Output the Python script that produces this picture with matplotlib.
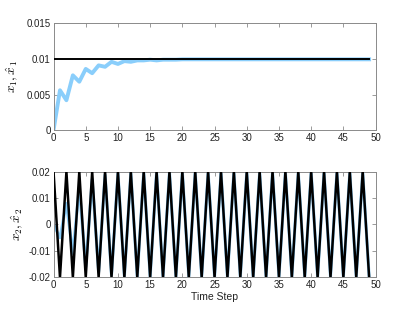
import matplotlib
matplotlib.use("Agg")
import matplotlib.pyplot as plt
import numpy as np

t = list(range(50))
x1_true = [0.01] * 50
x1_est = [0.0, 0.0056, 0.0042, 0.0077, 0.0068, 0.0086, 0.0080, 0.0091, 0.0089, 0.0096,
          0.0093, 0.0097, 0.0096, 0.0098, 0.0098, 0.0099, 0.0098, 0.0099, 0.0099, 0.0099] + [0.00995] * 30
x2_true = [0.02, -0.02] * 25
x2_est = [0.0, -0.005, 0.008, -0.011, 0.014, -0.016, 0.017, -0.018, 0.0188, -0.0192,
          0.0195, -0.0196, 0.0197, -0.0198, 0.0198, -0.0199, 0.0199, -0.0199] + [0.0199, -0.0199] * 16

x_ticks = [0, 5, 10, 15, 20, 25, 30, 35, 40, 45, 50]
y1_ticks = [0, 0.005, 0.01, 0.015]
y1_labels = ["0", "0.005", "0.01", "0.015"]
y2_ticks = [-0.02, -0.01, 0, 0.01, 0.02]
y2_labels = ["-0.02", "-0.01", "0", "0.01", "0.02"]

plt.rcParams['mathtext.fontset'] = 'cm'
plt.rcParams['font.family'] = ['Liberation Sans', 'DejaVu Sans']
blue = '#8ACEFB'
axcol = '#8a8a8a'

fig = plt.figure(figsize=(4.15, 3.12), dpi=100)
ax1 = fig.add_axes([0.129, 0.583, 0.776, 0.342])
ax2 = fig.add_axes([0.129, 0.111, 0.776, 0.339])

ax1.plot(t, x1_est, color=blue, lw=2.8, zorder=2)
ax1.plot(t, x1_true, color='black', lw=1.4, zorder=3)
ax1.set_xlim(0, 50)
ax1.set_ylim(0, 0.015)
ax1.set_yticks(y1_ticks)
ax1.set_yticklabels(y1_labels)
ax1.set_ylabel(r'$x_1, \hat{x}_1$', fontsize=9.5, labelpad=5)

ax2.plot(t, x2_est, color=blue, lw=2.2, zorder=2)
ax2.plot(t, x2_true, color='black', lw=1.8, zorder=3)
ax2.set_xlim(0, 50)
ax2.set_ylim(-0.02, 0.02)
ax2.set_yticks(y2_ticks)
ax2.set_yticklabels(y2_labels)
ax2.set_ylabel(r'$x_2, \hat{x}_2$', fontsize=9.5, labelpad=3)
ax2.set_xlabel('Time Step', fontsize=7.5, labelpad=1, color='#222222')

for ax in (ax1, ax2):
    ax.set_xticks(x_ticks)
    ax.tick_params(direction='in', length=3, width=0.6, labelsize=7, colors=axcol,
                   labelcolor='#222222', top=True, right=True, pad=2)
    for s in ax.spines.values():
        s.set_color(axcol)
        s.set_linewidth(0.7)

fig.savefig('out.png', dpi=100)
